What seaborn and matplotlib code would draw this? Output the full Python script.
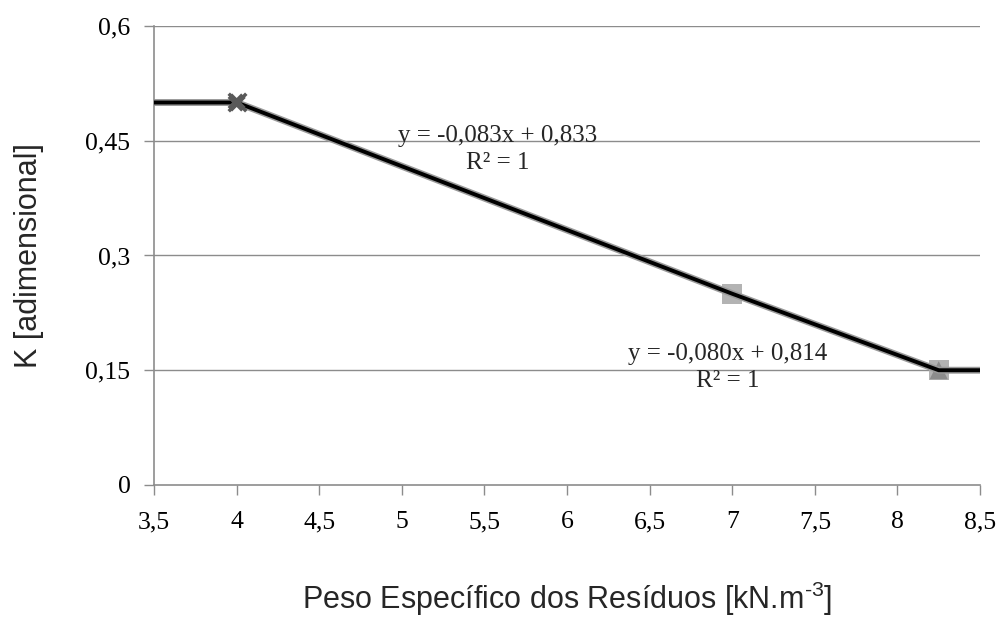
import matplotlib
matplotlib.use("Agg")
import matplotlib.pyplot as plt
from matplotlib.ticker import FuncFormatter
import seaborn as sns
import pandas as pd

sns.set_theme(style="white")
plt.rcParams["mathtext.fontset"] = "custom"
plt.rcParams["mathtext.rm"] = "Liberation Sans"

# Measured points
peso = [4.0, 7.0, 8.25]
k_vals = [0.50, 0.25, 0.15]

# Piecewise curve (plateaus at both ends)
curve_x = [3.5, 4.0, 7.0, 8.25, 8.5]
curve_y = [0.50, 0.50, 0.25, 0.15, 0.15]

eq1 = "y = -0,083x + 0,833\nR² = 1"
eq2 = "y = -0,080x + 0,814\nR² = 1"

x_ticks = [3.5, 4, 4.5, 5, 5.5, 6, 6.5, 7, 7.5, 8, 8.5]
y_ticks = [0, 0.15, 0.3, 0.45, 0.6]

curve = pd.DataFrame({"x": curve_x, "y": curve_y})

fig = plt.figure(figsize=(9.99, 6.31), dpi=100)
ax = fig.add_axes([0.1542, 0.2314, 0.8268, 0.7274])

for y in y_ticks[1:]:
    ax.axhline(y, color="#8c8c8c", lw=1.0, zorder=0)

sns.lineplot(data=curve, x="x", y="y", ax=ax, color="#9a9a9a", lw=5.0,
             sort=False, zorder=2)
sns.lineplot(data=curve, x="x", y="y", ax=ax, color="black", lw=2.8,
             sort=False, zorder=3)

pts = pd.DataFrame({"x": peso, "y": k_vals})
ax.scatter(pts.x[:1], pts.y[:1], marker="X", s=170, color="#595959",
           edgecolor="none", zorder=4)
ax.scatter(pts.x[:1], pts.y[:1], marker="x", s=160, color="#595959",
           lw=2.5, zorder=4)
ax.scatter(pts.x[1:], pts.y[1:], marker="s", s=210, color="#b3b3b3",
           edgecolor="none", zorder=1)
ax.scatter(pts.x[2:], pts.y[2:], marker="^", s=170, color="#8c8c8c",
           edgecolor="none", zorder=1)

serif = ["Liberation Serif", "DejaVu Serif"]
ax.text(5.58, 0.439, eq1, ha="center", va="center", fontsize=18,
        family=serif, linespacing=1.3, zorder=5)
ax.text(6.97, 0.153, eq2, ha="center", va="center", fontsize=18,
        family=serif, linespacing=1.3, zorder=5)

ax.set_xlim(3.5, 8.5)
ax.set_ylim(0, 0.6)
ax.set_xticks(x_ticks)
ax.set_yticks(y_ticks)
fmt = FuncFormatter(lambda v, p: f"{v:g}".replace(".", ","))
ax.xaxis.set_major_formatter(fmt)
ax.yaxis.set_major_formatter(fmt)

for lab in ax.get_xticklabels() + ax.get_yticklabels():
    lab.set_family(serif)
    lab.set_fontsize(18.5)

ax.tick_params(axis="both", direction="out", length=7, width=1,
               color="#8c8c8c", colors="black", left=True, bottom=True)
ax.tick_params(axis="x", pad=12)
ax.tick_params(axis="y", pad=10)

for side in ("top", "right"):
    ax.spines[side].set_visible(False)
for side in ("left", "bottom"):
    ax.spines[side].set_color("#8c8c8c")
    ax.spines[side].set_linewidth(1.2)

sans = ["Liberation Sans", "DejaVu Sans"]
ax.set_xlabel("Peso Específico dos Resíduos [kN.m$^{\\text{-3}}$]",
              fontsize=22, family=sans, labelpad=33)
ax.set_ylabel("K [adimensional]", fontsize=22, family=sans, labelpad=30)

fig.savefig("out.png", dpi=100)
